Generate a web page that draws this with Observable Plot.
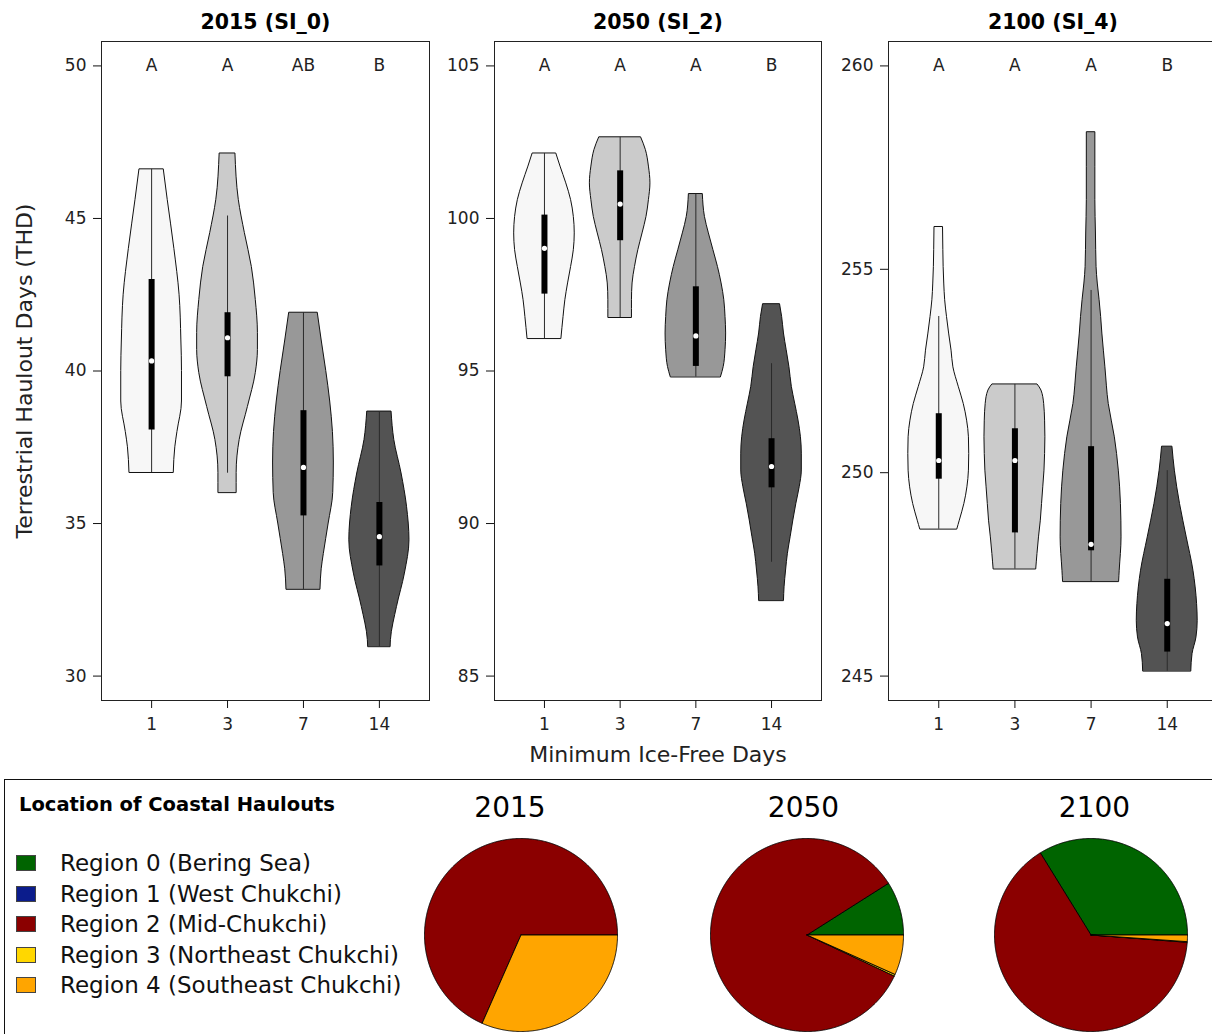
<!DOCTYPE html>
<html><head><meta charset="utf-8">
<script src="https://cdn.jsdelivr.net/npm/d3@7"></script>
<script src="https://cdn.jsdelivr.net/npm/@observablehq/plot@0.6"></script>
<style>
body{margin:0;background:#fff;}
#chart{position:relative;width:1212px;height:1034px;overflow:hidden;background:#fff;font-family:"DejaVu Sans",sans-serif;color:#111}
</style></head><body><div id="chart"></div><script>
// ---------- data ----------
const panelTitles = ["2015 (SI_0)", "2050 (SI_2)", "2100 (SI_4)"];
const categories = ["1", "3", "7", "14"];
const yLimits = [[30, 50], [85, 105], [245, 260]];
const yTicks = [[30, 35, 40, 45, 50], [85, 90, 95, 100, 105], [245, 250, 255, 260]];
const letters2015 = ["A", "A", "AB", "B"];
const letters2050 = ["A", "A", "A", "B"];
const letters2100 = ["A", "A", "A", "B"];
const violinFills = ["#f7f7f7", "#cbcbcb", "#989898", "#535353"];
const xTitle = "Minimum Ice-Free Days";
const yTitle = "Terrestrial Haulout Days (THD)";

// violin outlines: [THD value, relative density width]
const violin2015 = [
  [[46.61,0.40],[45.61,0.53],[44.0,0.75],[42.5,0.92],[41.0,0.98],[40.0,1.0],[39.0,1.0],[38.0,0.85],[37.5,0.78],[36.67,0.73]],
  [[47.13,0.26],[45.61,0.37],[44.52,0.57],[43.41,0.8],[42.33,0.93],[41.25,1.0],[40.69,1.0],[39.93,0.93],[38.82,0.67],[37.74,0.4],[36.66,0.3],[36.01,0.3]],
  [[41.91,0.47],[41.0,0.6],[40.0,0.75],[39.0,0.88],[38.0,0.97],[37.0,1.0],[36.0,0.98],[35.0,0.83],[34.0,0.67],[33.5,0.6],[32.84,0.56]],
  [[38.67,0.4],[37.74,0.49],[36.64,0.73],[35.55,0.91],[34.45,0.99],[33.36,0.84],[32.27,0.58],[31.18,0.38],[30.96,0.37]]
];
const violin2050 = [
  [[102.13,0.39],[101.70,0.53],[101.15,0.72],[100.60,0.88],[100.05,0.97],[99.51,1.0],[98.96,0.97],[98.41,0.88],[97.87,0.78],[97.32,0.69],[96.77,0.63],[96.06,0.56]],
  [[102.66,0.69],[102.24,0.85],[101.70,0.95],[101.15,1.0],[100.60,0.95],[100.05,0.87],[99.51,0.74],[98.96,0.6],[98.41,0.49],[97.87,0.41],[97.32,0.39],[96.75,0.39]],
  [[100.80,0.23],[100.05,0.3],[99.51,0.43],[98.96,0.58],[98.41,0.73],[97.87,0.85],[97.32,0.94],[96.77,0.98],[96.23,1.0],[95.68,0.98],[95.13,0.92],[94.80,0.83]],
  [[97.19,0.28],[96.77,0.35],[96.23,0.41],[95.68,0.5],[95.13,0.59],[94.48,0.67],[93.93,0.78],[93.38,0.89],[92.83,0.97],[92.29,1.0],[91.74,1.0],[91.19,0.93],[90.65,0.82],[90.10,0.72],[89.55,0.63],[89.01,0.54],[88.46,0.48],[87.91,0.43],[87.47,0.41]]
];
const violin2100 = [
  [[256.04,0.14],[255.47,0.15],[255.06,0.16],[254.65,0.18],[254.24,0.21],[253.83,0.27],[253.42,0.34],[253.0,0.42],[252.59,0.48],[252.10,0.66],[251.69,0.82],[251.28,0.93],[250.87,0.99],[250.46,1.0],[250.05,0.99],[249.64,0.94],[249.23,0.84],[248.82,0.69],[248.61,0.61]],
  [[252.17,0.74],[252.02,0.87],[251.69,0.96],[251.28,0.99],[250.87,1.0],[250.46,0.99],[250.05,0.97],[249.64,0.93],[249.23,0.89],[248.82,0.85],[248.41,0.79],[248.0,0.74],[247.63,0.70]],
  [[258.37,0.14],[257.52,0.14],[256.70,0.14],[255.88,0.16],[255.06,0.18],[254.65,0.22],[254.24,0.28],[253.83,0.33],[253.42,0.37],[253.0,0.42],[252.59,0.47],[251.69,0.58],[250.87,0.78],[250.05,0.91],[249.23,0.98],[248.41,1.0],[247.59,0.94],[247.32,0.92]],
  [[250.64,0.17],[250.05,0.25],[249.23,0.42],[248.41,0.64],[247.59,0.86],[246.77,0.98],[246.36,1.0],[245.95,0.96],[245.54,0.83],[245.12,0.79]]
];

// box stats: [Q1, median, Q3, lower whisker, upper whisker]
const box2015 = [[38.07,40.33,43.0,36.67,46.61],[39.81,41.09,41.91,36.65,45.08],[35.25,36.84,38.70,32.84,41.91],[33.61,34.57,35.69,30.96,38.67]];
const box2050 = [[97.52,99.02,100.11,96.06,102.13],[99.27,100.47,101.56,96.75,102.66],[95.15,96.15,97.76,94.80,100.80],[91.17,91.87,92.78,88.73,95.24]];
const box2100 = [[249.84,250.30,251.45,248.61,253.84],[248.52,250.30,251.08,247.63,252.17],[248.08,248.24,250.64,247.32,254.48],[245.59,246.29,247.38,245.12,250.05]];

// pies
const legendTitle = "Location of Coastal Haulouts";
const pieYears = ["2015", "2050", "2100"];
const regionNames = ["Region 0 (Bering Sea)", "Region 1 (West Chukchi)", "Region 2 (Mid-Chukchi)", "Region 3 (Northeast Chukchi)", "Region 4 (Southeast Chukchi)"];
const regionColors = ["#006400", "#0b1c8c", "#8b0000", "#ffd700", "#ffa500"];
const share2015 = [0, 0, 68.4, 0, 31.6];
const share2050 = [9.0, 0, 84.0, 0.3, 6.7];
const share2100 = [33.8, 0, 65.0, 0.1, 1.1];

// ---------- drawing ----------
const chart = document.getElementById("chart");
const violins = [violin2015, violin2050, violin2100];
const boxes = [box2015, box2050, box2100];
const lettersAll = [letters2015, letters2050, letters2100];
const panelLayout = [
  {left: 0, width: 440, ml: 101, mr: 11},
  {left: 430, width: 400, ml: 64, mr: 9},
  {left: 820, width: 400, ml: 68, mr: 3}
];
const n = categories.length;
const xDomain = [0.5 - 0.04 * n, n + 0.5 + 0.04 * n];
const halfMax = 0.4;

function place(el, left, top) {
  el.style.position = "absolute";
  el.style.left = left + "px";
  el.style.top = top + "px";
  return el;
}

violins.forEach((panel, k) => {
  const [lo, hi] = yLimits[k];
  const pad = 0.04 * (hi - lo);
  const L = panelLayout[k];
  const marks = [];
  panel.forEach((prof, c) => {
    const rows = prof.map(([y, w]) => ({y, x1: c + 1 - halfMax * w, x2: c + 1 + halfMax * w}))
      .sort((a, b) => a.y - b.y);
    marks.push(Plot.areaX(rows, {y: "y", x1: "x1", x2: "x2", fill: violinFills[c], stroke: "#111", strokeWidth: 1, curve: "monotone-y"}));
  });
  const bx = boxes[k];
  marks.push(
    Plot.ruleX(bx, {x: (d, i) => i + 1, y1: d => d[3], y2: d => d[4], stroke: "#2a2a2a", strokeWidth: 1}),
    Plot.ruleX(bx, {x: (d, i) => i + 1, y1: d => d[0], y2: d => d[2], stroke: "#000", strokeWidth: 6}),
    Plot.dot(bx, {x: (d, i) => i + 1, y: d => d[1], r: 2.6, fill: "white", stroke: null}),
    Plot.text(lettersAll[k], {x: (d, i) => i + 1, y: () => hi, text: d => d, fontSize: 17, fill: "#222"}),
    Plot.text([panelTitles[k]], {frameAnchor: "top", lineAnchor: "middle", dy: -19, fontWeight: "bold", fontSize: 20.5, fill: "#000"}),
    Plot.frame({stroke: "#222", strokeWidth: 1}),
    Plot.axisX({ticks: d3.range(1, n + 1), tickFormat: d => categories[d - 1], tickSize: 8, tickPadding: 9, label: null, fill: "#222"}),
    Plot.axisY({ticks: yTicks[k], tickSize: 8, tickPadding: 7, label: null, fill: "#222"})
  );
  if (k === 0) marks.push(Plot.text([yTitle], {frameAnchor: "left", textAnchor: "middle", lineAnchor: "middle", dx: -77, rotate: -90, fontSize: 22, fill: "#222"}));
  if (k === 1) marks.push(Plot.text([xTitle], {frameAnchor: "bottom", textAnchor: "middle", lineAnchor: "middle", dy: 54, fontSize: 22, fill: "#222"}));
  const svg = Plot.plot({
    width: L.width, height: 760,
    marginLeft: L.ml, marginRight: L.mr, marginTop: 41, marginBottom: 60,
    x: {domain: xDomain},
    y: {domain: [lo - pad, hi + pad]},
    style: {fontFamily: "DejaVu Sans", fontSize: "17px", background: "transparent", maxWidth: "none", overflow: "visible"},
    marks
  });
  chart.appendChild(place(svg, L.left, 0));
});

// legend box border
const border = document.createElement("div");
border.style.cssText = "position:absolute;left:4px;top:779px;width:1400px;height:400px;border-top:1.5px solid #111;border-left:1.5px solid #111;";
chart.appendChild(border);

const lt = document.createElement("div");
lt.textContent = legendTitle;
lt.style.cssText = "position:absolute;left:19px;top:793px;font-family:'DejaVu Sans';font-weight:bold;font-size:19.5px;color:#000;white-space:nowrap;line-height:24px;";
chart.appendChild(lt);

const rowY = [863, 893.5, 924, 954.5, 985];
regionNames.forEach((name, i) => {
  const sw = document.createElement("div");
  sw.style.cssText = `position:absolute;left:16px;top:${rowY[i] - 8}px;width:20px;height:16px;background:${regionColors[i]};box-sizing:border-box;border:1px solid #444;`;
  chart.appendChild(sw);
  const tx = document.createElement("div");
  tx.textContent = name;
  tx.style.cssText = `position:absolute;left:60px;top:${rowY[i] - 14}px;font-family:'DejaVu Sans';font-size:23px;line-height:28px;color:#111;white-space:nowrap;`;
  chart.appendChild(tx);
});

// pies
const shares = [share2015, share2050, share2100];
const pieCenters = [520, 806, 1090];
const pieTitleX = [510, 803.5, 1094.5];
const pieCy = 934.3;
const pieSize = 197;
shares.forEach((sh, k) => {
  const total = d3.sum(sh);
  let acc = 0;
  const marks = [];
  sh.forEach((s, r) => {
    const a0 = acc / total * 2 * Math.PI;
    acc += s;
    const a1 = acc / total * 2 * Math.PI;
    if (s <= 0) return;
    const steps = Math.max(2, Math.ceil((a1 - a0) / (Math.PI / 360)));
    const pts = [{x: 0, y: 0}];
    for (let j = 0; j <= steps; j++) {
      const a = a0 + (a1 - a0) * j / steps;
      pts.push({x: Math.cos(a), y: Math.sin(a)});
    }
    pts.push({x: 0, y: 0});
    marks.push(Plot.line(pts, {x: "x", y: "y", fill: regionColors[r], stroke: "#000", strokeWidth: 0.9, strokeLinejoin: "round"}));
  });
  const svg = Plot.plot({
    width: pieSize, height: pieSize, margin: 2,
    x: {domain: [-1, 1], axis: null},
    y: {domain: [-1, 1], axis: null},
    style: {background: "transparent", maxWidth: "none", overflow: "visible"},
    marks
  });
  chart.appendChild(place(svg, pieCenters[k] - pieSize / 2, pieCy - pieSize / 2));
  const t = document.createElement("div");
  t.textContent = pieYears[k];
  t.style.cssText = `position:absolute;left:${pieTitleX[k] - 60}px;width:120px;text-align:center;top:790px;font-family:'DejaVu Sans';font-size:28px;line-height:36px;color:#000;`;
  chart.appendChild(t);
});
</script></body></html>
